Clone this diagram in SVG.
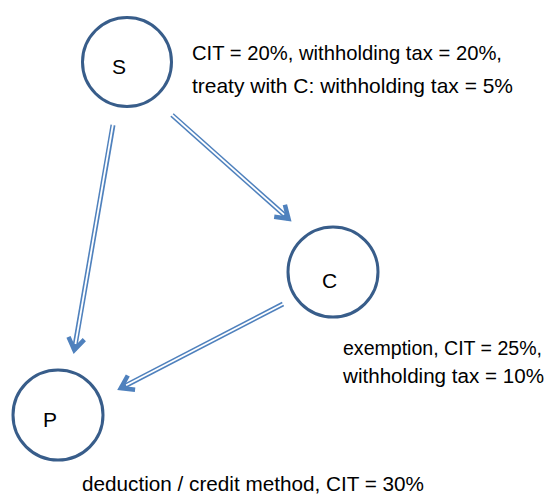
<svg xmlns="http://www.w3.org/2000/svg" width="548" height="494" viewBox="0 0 548 494">
<style>
.node{fill:#fff;stroke:#385d8a;stroke-width:3}
.lbl{font-family:"Liberation Sans",Arial,sans-serif;font-size:21px;fill:#000}
.txt{font-family:"Liberation Sans",Arial,sans-serif;font-size:21px;fill:#000}
.sm{font-size:20px}
.shaft{fill:none;stroke:#4f81bd;stroke-width:5;stroke-linecap:butt}
.inner{fill:none;stroke:#fff;stroke-width:1.8;stroke-linecap:butt}
.head{fill:none;stroke:#4f81bd;stroke-width:4.5;stroke-linejoin:miter;stroke-linecap:butt}
</style>
<rect width="548" height="494" fill="#fff"/>
<g id="connectors">
  <g id="S-P">
    <line class="shaft" x1="113" y1="125" x2="74.3" y2="350"/>
    <line class="inner" x1="113" y1="124" x2="75.4" y2="344"/>
    <polyline class="head" points="68.5,336.9 74.3,350 84.3,339.6"/>
  </g>
  <g id="S-C">
    <line class="shaft" x1="172" y1="115" x2="288.5" y2="218.7"/>
    <line class="inner" x1="171" y1="114" x2="284" y2="214.7"/>
    <polyline class="head" points="274.2,216.7 288.5,218.7 284.9,204.7"/>
  </g>
  <g id="C-P">
    <line class="shaft" x1="283" y1="304" x2="120.8" y2="388.1"/>
    <line class="inner" x1="284" y1="303.5" x2="126.1" y2="385.3"/>
    <polyline class="head" points="127.8,375.5 120.8,388.1 135.1,389.7"/>
  </g>
</g>
<g id="node-S">
  <circle class="node" cx="127" cy="62" r="44.5"/>
  <text class="lbl" x="112" y="74">S</text>
</g>
<g id="node-C">
  <circle class="node" cx="333" cy="272" r="45"/>
  <text class="lbl" x="322" y="288">C</text>
</g>
<g id="node-P">
  <circle class="node" cx="58" cy="415" r="45"/>
  <text class="lbl" x="43" y="427">P</text>
</g>
<g id="labels">
  <text class="txt" x="192" y="60" textLength="310" lengthAdjust="spacingAndGlyphs">CIT = 20%, withholding tax = 20%,</text>
  <text class="txt" x="192" y="93" textLength="321" lengthAdjust="spacingAndGlyphs">treaty with C: withholding tax = 5%</text>
  <text class="txt sm" x="343" y="355" textLength="199" lengthAdjust="spacingAndGlyphs">exemption, CIT = 25%,</text>
  <text class="txt sm" x="343" y="383" textLength="201" lengthAdjust="spacingAndGlyphs">withholding tax = 10%</text>
  <text class="txt" x="82" y="491" textLength="342" lengthAdjust="spacingAndGlyphs">deduction / credit method, CIT = 30%</text>
</g>
</svg>
